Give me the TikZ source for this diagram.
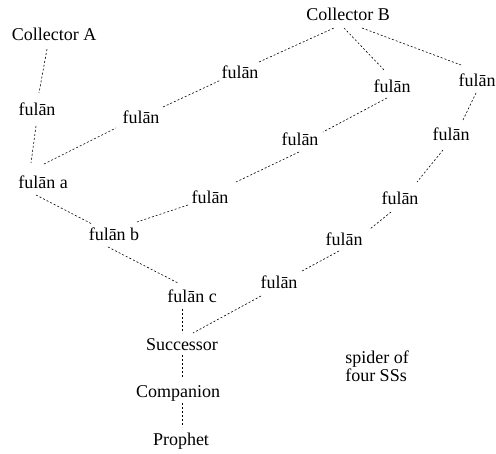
\documentclass[tikz,border=0pt]{standalone}
\usepackage{fontspec}
\setmainfont{Liberation Serif}
\usetikzlibrary{calc}
\begin{document}
\begin{tikzpicture}[x=1pt,y=-1pt,
  lbl/.style={inner sep=2pt,text height=12pt,text depth=4pt,font=\fontsize{18}{20}\selectfont},
  link/.style={dash pattern=on 2pt off 2pt,line width=0.6pt}]
\useasboundingbox (0,0) rectangle (496,454);
% isnad chain through Collector A
\node[lbl] (ca) at (54,37) {Collector A};
\node[lbl] (a1) at (37,112) {fulān};
\node[lbl] (fa) at (43,185) {fulān a};
\node[lbl] (fb) at (114,237) {fulān b};
\node[lbl] (fc) at (192,299) {fulān c};
\node[lbl] (su) at (182,347) {Successor};
\node[lbl] (co) at (178,394) {Companion};
\node[lbl] (pr) at (181,442) {Prophet};
% Collector B and its three strands
\node[lbl] (cb) at (348,17) {Collector B};
\node[lbl] (p1a) at (240,75) {fulān};
\node[lbl] (p1b) at (141,120) {fulān};
\node[lbl] (p2a) at (392,89) {fulān};
\node[lbl] (p2b) at (300,142) {fulān};
\node[lbl] (p2c) at (210,200) {fulān};
\node[lbl] (p3a) at (477,83) {fulān};
\node[lbl] (p3b) at (451,137) {fulān};
\node[lbl] (p3c) at (400,201) {fulān};
\node[lbl] (p3d) at (344,242) {fulān};
\node[lbl] (p3e) at (279,285) {fulān};
% caption
\node[lbl,align=left,text height=,text depth=,font=\fontsize{18}{18}\selectfont] (cap) at (377,366) {spider of\\four SSs};
% links (end points offset from the label centres)
\draw[link] ($(ca)+(-7,12)$) -- ($(a1)+(2,-19)$);
\draw[link] ($(a1)+(-1,14)$) -- ($(fa)+(-12,-22)$);
\draw[link] ($(fa)+(1,-21)$) -- ($(p1b)+(-25,8)$);
\draw[link] ($(p1b)+(22,-13)$) -- ($(p1a)+(-19,5)$);
\draw[link] ($(p1a)+(19,-13)$) -- ($(cb)+(-14,11)$);
\draw[link] ($(cb)+(-4,11)$) -- ($(p2a)+(-7,-18)$);
\draw[link] ($(p2a)+(-5,9)$) -- ($(p2b)+(23,-10)$);
\draw[link] ($(p2b)+(-1,10)$) -- ($(p2c)+(26,-18)$);
\draw[link] ($(p2c)+(-22,5)$) -- ($(fb)+(23,-15)$);
\draw[link] ($(fa)+(-7,10)$) -- ($(fb)+(-22,-13)$);
\draw[link] ($(fb)+(-6,10)$) -- ($(fc)+(-14,-16)$);
\draw[link] ($(fc)+(-10,10)$) -- ($(su)+(0,-14)$);
\draw[link] ($(su)+(0,8)$) -- ($(co)+(4,-17)$);
\draw[link] ($(co)+(4,9)$) -- ($(pr)+(1,-15)$);
\draw[link] ($(cb)+(14,11)$) -- ($(p3a)+(-16,-18)$);
\draw[link] ($(p3a)+(-1,10)$) -- ($(p3b)+(12,-17)$);
\draw[link] ($(p3b)+(-8,13)$) -- ($(p3c)+(17,-19)$);
\draw[link] ($(p3c)+(-9,11)$) -- ($(p3d)+(26,-13)$);
\draw[link] ($(p3d)+(-5,9)$) -- ($(p3e)+(23,-14)$);
\draw[link] ($(p3e)+(-18,11)$) -- ($(su)+(11,-14)$);
\end{tikzpicture}
\end{document}
